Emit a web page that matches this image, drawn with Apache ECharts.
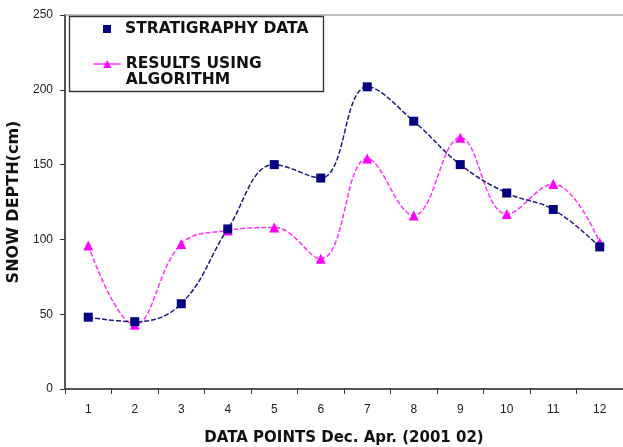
<!DOCTYPE html>
<html><head><meta charset="utf-8">
<script src="https://cdn.jsdelivr.net/npm/echarts@6/dist/echarts.min.js"></script>
<style>html,body{margin:0;padding:0;background:#fff}#c{width:623px;height:447px}</style>
</head><body><div id="c"></div>
<script>
const categories = ['1','2','3','4','5','6','7','8','9','10','11','12'];
const stratigraphy = [48, 45, 57, 107, 150, 141, 202, 179, 150, 131, 120, 95];
const algorithm = [96, 43, 97, 106, 108, 87, 154, 116, 168, 117, 137, 98];
const yTicks = {min: 0, max: 250, interval: 50};
const names = ['STRATIGRAPHY DATA', 'RESULTS USING\nALGORITHM'];

const font = 'Liberation Sans, Arial, sans-serif';
const wide = 'DejaVu Sans, Verdana, sans-serif';
const chart = echarts.init(document.getElementById('c'));
chart.setOption({
  animation: false,
  backgroundColor: '#fff',
  grid: {left: 65, right: 0, top: 15, bottom: 58, outerBoundsMode: 'none', containLabel: false},
  graphic: [{type: 'rect', shape: {x: 69.5, y: 16.5, width: 254, height: 75}, style: {fill: '#fff', stroke: '#333', lineWidth: 1.3}, z: 1}],
  legend: [
    {data: [{name: names[0], icon: 'path://M0,0L1,0L1,1L0,1Z'}], left: 103, top: 21, padding: 0, itemWidth: 26, itemHeight: 8, symbolKeepAspect: true,
     textStyle: {fontFamily: wide, fontSize: 15.5, color: '#111', fontWeight: 'bold'}, z: 5},
    {data: [names[1]], left: 93, top: 40, padding: 0, itemWidth: 27, itemHeight: 10,
     formatter: function (n) { return ' \n' + n; },
     lineStyle: {type: 'solid', width: 1.5},
     textStyle: {fontFamily: wide, fontSize: 15.5, color: '#111', fontWeight: 'bold', lineHeight: 16}, z: 5}
  ],
  xAxis: [{
    type: 'category', data: categories, boundaryGap: true,
    name: 'DATA POINTS Dec. Apr. (2001 02)', nameLocation: 'middle', nameGap: 42,
    nameTextStyle: {fontFamily: wide, fontSize: 15, fontWeight: 'bold', color: '#111'},
    axisLine: {lineStyle: {color: '#555', width: 2}},
    axisTick: {show: true, length: 5, lineStyle: {color: '#333'}},
    axisLabel: {fontFamily: font, fontSize: 12, color: '#222', margin: 15},
    splitLine: {show: false}
  }, {
    type: 'category', data: categories, position: 'top',
    axisLine: {show: true, lineStyle: {color: '#aaa', width: 1.5}},
    axisTick: {show: false}, axisLabel: {show: false}, splitLine: {show: false}
  }],
  yAxis: {
    type: 'value', min: yTicks.min, max: yTicks.max, interval: yTicks.interval,
    name: 'SNOW DEPTH(cm)', nameLocation: 'middle', nameGap: 39,
    nameTextStyle: {fontFamily: wide, fontSize: 16, fontWeight: 'bold', color: '#111'},
    axisLine: {show: true, lineStyle: {color: '#555', width: 2}},
    axisTick: {show: true, length: 5, lineStyle: {color: '#333'}},
    axisLabel: {fontFamily: font, fontSize: 12, color: '#222', margin: 12},
    splitLine: {show: false}
  },
  series: [
    {name: names[0], type: 'line', data: stratigraphy, smooth: 0.4,
     symbol: 'rect', symbolSize: 9, itemStyle: {color: '#000080'},
     lineStyle: {color: '#1a1a80', width: 1.5, type: [5, 2]}, z: 3},
    {name: names[1], type: 'line', data: algorithm, smooth: 0.4,
     symbol: 'triangle', symbolSize: 10, itemStyle: {color: '#ff00ff'},
     lineStyle: {color: '#ff33ff', width: 1.5, type: [5, 2]}, z: 2}
  ]
});
</script></body></html>
